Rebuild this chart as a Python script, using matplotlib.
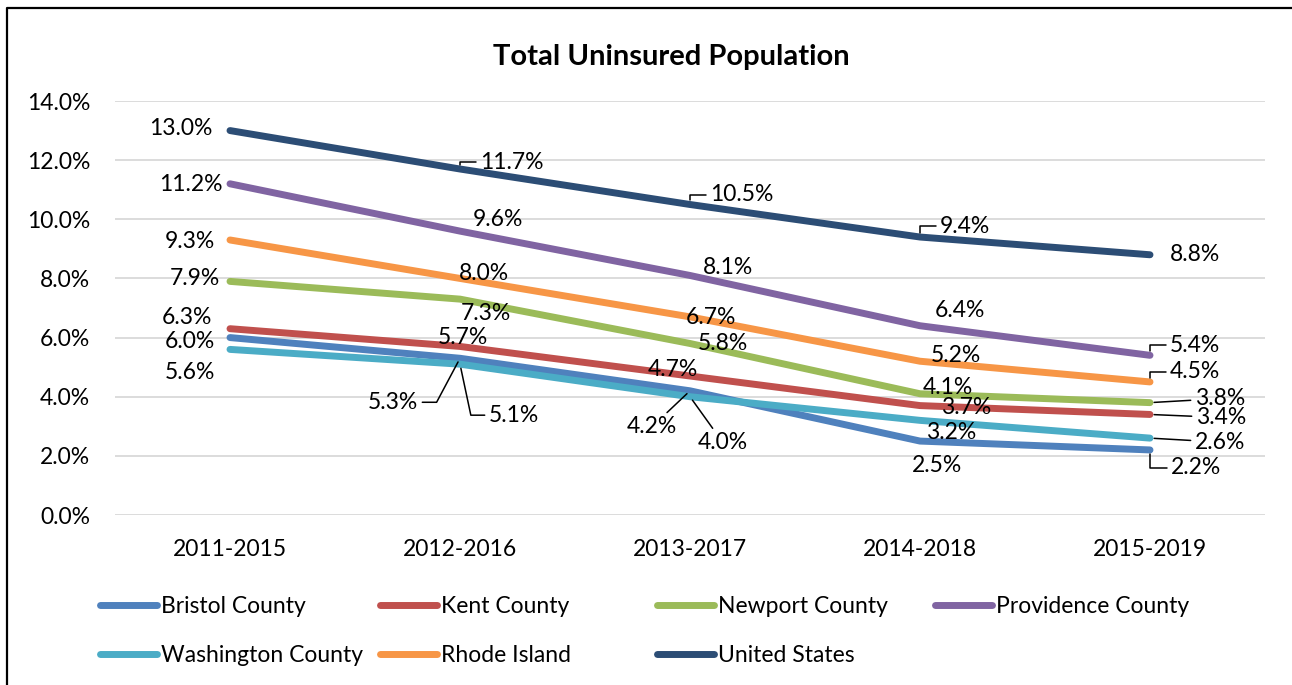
import matplotlib.pyplot as plt
from matplotlib.lines import Line2D
from matplotlib.ticker import FuncFormatter

plt.rcParams["font.family"] = ["Lato", "DejaVu Sans"]

PERIODS = ["2011-2015", "2012-2016", "2013-2017", "2014-2018", "2015-2019"]

SERIES_NAMES = [
    "Bristol County", "Kent County", "Newport County", "Providence County",
    "Washington County", "Rhode Island", "United States",
]
BRISTOL = [6.0, 5.3, 4.2, 2.5, 2.2]
KENT = [6.3, 5.7, 4.7, 3.7, 3.4]
NEWPORT = [7.9, 7.3, 5.8, 4.1, 3.8]
PROVIDENCE = [11.2, 9.6, 8.1, 6.4, 5.4]
WASHINGTON = [5.6, 5.1, 4.0, 3.2, 2.6]
RHODE_ISLAND = [9.3, 8.0, 6.7, 5.2, 4.5]
UNITED_STATES = [13.0, 11.7, 10.5, 9.4, 8.8]

SERIES_VALUES = [BRISTOL, KENT, NEWPORT, PROVIDENCE, WASHINGTON, RHODE_ISLAND, UNITED_STATES]
COLORS = ["#4F81BD", "#C0504D", "#9BBB59", "#8064A2", "#4BACC6", "#F79646", "#2C4D75"]

# label offsets in pixels (dx, dy up) and leader type, per series
CORNER = "angle,angleA=0,angleB=90,rad=0"
STRAIGHT = "arc3,rad=0"
LABEL_LAYOUT = {
    "Bristol County": [(-40, -4, None), (-67, -44, "angle,angleA=0,angleB=62,rad=0"),
                       (-38, -36, STRAIGHT), (17, -24, None), (46, -18, CORNER)],
    "Kent County": [(-43, 11, None), (3, 9, None), (-17, 7, None), (46, -2, None),
                    (71, -3, STRAIGHT)],
    "Newport County": [(-35, 3, None), (26, -14, None), (33, 0, None), (28, 6, None),
                       (70, 4, STRAIGHT)],
    "Providence County": [(-39, -1, None), (38, 12, None), (38, 8, None), (40, 15, None),
                          (45, 10, CORNER)],
    "Washington County": [(-40, -23, None), (54, -51, "angle,angleA=0,angleB=102,rad=0"),
                          (33, -46, STRAIGHT), (31, -12, None), (70, -4, STRAIGHT)],
    "Rhode Island": [(-40, -2, None), (24, 5, None), (21, -1, None), (36, 6, None),
                     (45, 10, CORNER)],
    "United States": [(-49, 2, None), (52, 7, CORNER), (52, 10, CORNER), (45, 11, CORNER),
                      (45, 0, None)],
}

FONT_SIZE = 16.5
W, H = 1292, 685

fig = plt.figure(figsize=(W / 100, H / 100), dpi=100)
ax = fig.add_axes([115 / W, 1 - 515 / H, 1150 / W, 414 / H])

x = range(len(PERIODS))
lines = []
for name, values, color in zip(SERIES_NAMES, SERIES_VALUES, COLORS):
    (ln,) = ax.plot(x, values, color=color, lw=5, solid_capstyle="round",
                    solid_joinstyle="round", label=name)
    lines.append(ln)

for name, values in zip(SERIES_NAMES, SERIES_VALUES):
    for i, (v, (dx, dy, leader)) in enumerate(zip(values, LABEL_LAYOUT[name])):
        arrow = None
        if leader:
            arrow = dict(arrowstyle="-", color="black", lw=1.1, shrinkA=1, shrinkB=3,
                         connectionstyle=leader)
        ax.annotate(f"{v:.1f}%", xy=(i, v), xytext=(dx, dy), textcoords="offset pixels",
                    ha="center", va="center", fontsize=FONT_SIZE, arrowprops=arrow,
                    zorder=5)

ax.set_xlim(-0.5, len(PERIODS) - 0.5)
ax.set_ylim(0, 14)
ax.set_yticks(range(0, 15, 2))
ax.yaxis.set_major_formatter(FuncFormatter(lambda v, _: f"{v:.1f}%"))
ax.set_xticks(list(x), PERIODS)
ax.tick_params(axis="y", length=0, pad=18, labelsize=FONT_SIZE)
ax.tick_params(axis="x", length=0, pad=17, labelsize=FONT_SIZE)
ax.yaxis.grid(True, color="#D9D9D9", lw=1.3)
ax.set_axisbelow(True)
for spine in ax.spines.values():
    spine.set_visible(False)

fig.text(671 / W, 1 - 57 / H, "Total Uninsured Population", ha="center", va="center",
         fontsize=21, fontweight="bold")

# legend laid out in equal-width columns, filled row by row
legend_cols = [100, 380, 657, 935]
for col, x0 in enumerate(legend_cols):
    handles = [lines[col]] + ([lines[col + 4]] if col + 4 < len(lines) else [])
    fig.legend(handles=handles, loc="upper left", bbox_to_anchor=(x0 / W, 1 - 596 / H),
               frameon=False, fontsize=FONT_SIZE, borderpad=0, borderaxespad=0,
               handlelength=2.5, handletextpad=0.15, labelspacing=1.22)

# chart border (left and top edges visible)
fig.add_artist(Line2D([7 / W, 7 / W, 1], [0, 1 - 8 / H, 1 - 8 / H], color="black", lw=1.6))

fig.savefig("out.png", dpi=100)
